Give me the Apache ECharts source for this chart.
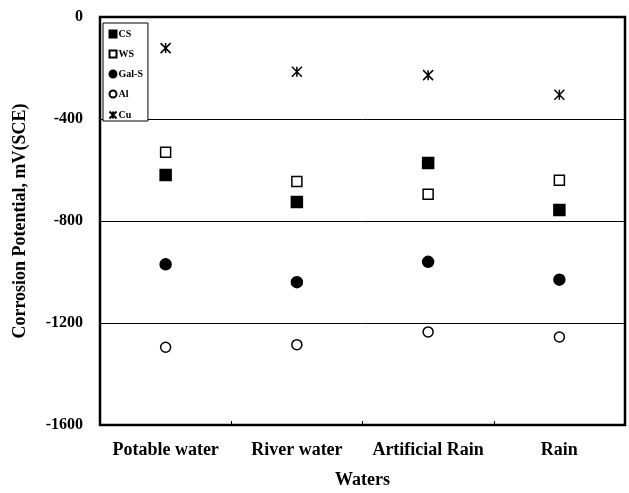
<!DOCTYPE html>
<html>
<head>
<meta charset="utf-8">
<script src="https://cdn.jsdelivr.net/npm/echarts@6/dist/echarts.min.js"></script>
<style>
  html, body { margin: 0; padding: 0; background: #fff; }
  #chart { width: 629px; height: 493px; }
</style>
</head>
<body>
<div id="chart"></div>
<script>
// Corrosion potential of five metals in four kinds of water (mV vs SCE)
const waters = ['Potable water', 'River water', 'Artificial Rain', 'Rain'];
const cs   = [-620, -725, -573, -757];
const ws   = [-530, -645, -695, -640];
const galS = [-970, -1040, -960, -1030];
const al   = [-1295, -1285, -1235, -1255];
const cu   = [-122, -215, -228, -305];
const yTicks = [0, -400, -800, -1200, -1600];

const FONT = '"Liberation Serif", "Times New Roman", serif';
const starPath = 'path://M0,0L10,10M10,0L0,10M5,0L5,10';

function series(name, data, symbol, fill, size) {
  return {
    name, type: 'scatter', data, symbol, symbolSize: size,
    itemStyle: { color: fill, borderColor: '#000', borderWidth: 1.5, opacity: 1 },
    emphasis: { disabled: true }
  };
}

const chart = echarts.init(document.getElementById('chart'), null, { renderer: 'canvas' });
chart.setOption({
  animation: false,
  backgroundColor: '#fff',
  textStyle: { fontFamily: FONT },
  grid: {
    left: 100, right: 4, top: 17, bottom: 68,
    outerBoundsMode: 'none', containLabel: false,
    show: true, borderColor: '#000', borderWidth: 2.5, backgroundColor: 'transparent'
  },
  legend: {
    orient: 'vertical', left: 103, top: 23,
    backgroundColor: '#fff', borderColor: '#000', borderWidth: 1,
    padding: [6, 5, 0, 4], itemGap: 10, itemWidth: 7, itemHeight: 7,
    textStyle: {
      fontFamily: FONT, fontWeight: 'bold', fontSize: 10, lineHeight: 9,
      color: '#000', padding: [0, 0, 0, -3]
    },
    data: [
      { name: 'CS', icon: 'rect' },
      { name: 'WS', icon: 'rect' },
      { name: 'Gal-S', icon: 'circle' },
      { name: 'Al', icon: 'circle' },
      { name: 'Cu', icon: starPath }
    ]
  },
  xAxis: {
    type: 'category', data: waters, boundaryGap: true,
    name: 'Waters', nameLocation: 'middle', nameGap: 46,
    nameTextStyle: { fontFamily: FONT, fontWeight: 'bold', fontSize: 18, color: '#000' },
    axisLine: { show: false, onZero: false },
    axisTick: { show: true, inside: true, interval: 0, length: 4, lineStyle: { color: '#000', width: 1 } },
    axisLabel: { interval: 0, fontFamily: FONT, fontWeight: 'bold', fontSize: 18, color: '#000', margin: 16 },
    splitLine: { show: false }
  },
  yAxis: {
    type: 'value', min: -1600, max: 0, interval: 400,
    name: 'Corrosion Potential, mV(SCE)', nameLocation: 'middle', nameGap: 71, nameRotate: 90,
    nameTextStyle: { fontFamily: FONT, fontWeight: 'bold', fontSize: 18, color: '#000' },
    axisLine: { show: false },
    axisTick: { show: false },
    axisLabel: {
      fontFamily: FONT, fontWeight: 'bold', fontSize: 16, color: '#000', margin: 17,
      formatter: v => yTicks.includes(v) ? String(v) : ''
    },
    splitLine: { show: true, lineStyle: { color: '#000', width: 1 } }
  },
  series: [
    series('CS', cs, 'rect', '#000', 11),
    series('WS', ws, 'rect', '#fff', 10),
    series('Gal-S', galS, 'circle', '#000', 11),
    series('Al', al, 'circle', '#fff', 10),
    series('Cu', cu, starPath, 'none', 10)
  ]
});
</script>
</body>
</html>
